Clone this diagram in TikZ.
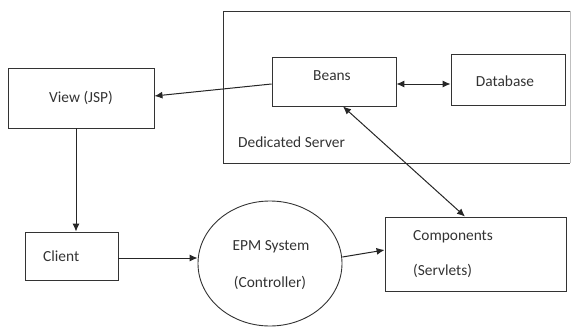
\documentclass[tikz,border=0pt]{standalone}
\usepackage{fontspec}
\setmainfont{Carlito}
\usetikzlibrary{arrows.meta,shapes.geometric}
\begin{document}
\begin{tikzpicture}[x=1pt,y=-1pt,
  box/.style={draw=black!80, line width=0.9pt},
  conn/.style={draw=black!85, line width=1pt, -{Latex[length=8pt,width=7pt]}},
  biconn/.style={draw=black!85, line width=1pt, {Latex[length=8pt,width=7pt]}-{Latex[length=8pt,width=7pt]}},
  lbl/.style={font=\fontsize{15.4}{18}\selectfont, text=black!80, inner sep=0pt}]
\useasboundingbox (0,0) rectangle (571,327);
% Dedicated server container
\draw[box] (570,11) -- (223,11) -- (223,163) -- (570,163);
\draw[draw=black!25, line width=0.6pt] (570,11) -- (570,163);
\node[lbl, anchor=west] (ds) at (238,142) {Dedicated Server};
% Boxes
\node[box, minimum width=146pt, minimum height=60pt, inner sep=0pt] (view) at (81,98) {};
\node[lbl] (viewt) at (81,98) {View (JSP)};
\node[box, minimum width=124pt, minimum height=49pt, inner sep=0pt] (beans) at (334,81.5) {};
\node[lbl] (beanst) at (332,76) {Beans};
\node[box, minimum width=114pt, minimum height=51pt, inner sep=0pt] (db) at (508,79.5) {};
\node[lbl] (dbt) at (505,81) {Database};
\node[box, minimum width=93pt, minimum height=48pt, inner sep=0pt] (client) at (71.5,256) {};
\node[lbl, anchor=west] (clientt) at (43,256) {Client};
\node[box, ellipse, minimum width=144pt, minimum height=125pt, inner sep=0pt] (epm) at (270,263.5) {};
\node[lbl] (epmt1) at (271,247) {EPM System};
\node[lbl] (epmt2) at (270,283) {(Controller)};
\node[box, minimum width=181pt, minimum height=74pt, inner sep=0pt] (comp) at (475.5,254) {};
\node[lbl, anchor=west] (compt1) at (413,237) {Components};
\node[lbl, anchor=west] (compt2) at (413,271) {(Servlets)};
% Connectors
\draw[conn] (beans.west |- 0,84) -- (view.east |- 0,96);
\draw[biconn] (beans.east |- 0,84) -- (db.west |- 0,84);
\draw[biconn] (beans.south -| 343,0) -- (comp.north -| 465,0);
\draw[conn] (view.south -| 76,0) -- (client.north -| 76,0);
\draw[conn] (client.east |- 0,258) -- (epm.west |- 0,258);
\draw[conn] (epm.east |- 0,257) -- (comp.west |- 0,250);
\end{tikzpicture}
\end{document}
